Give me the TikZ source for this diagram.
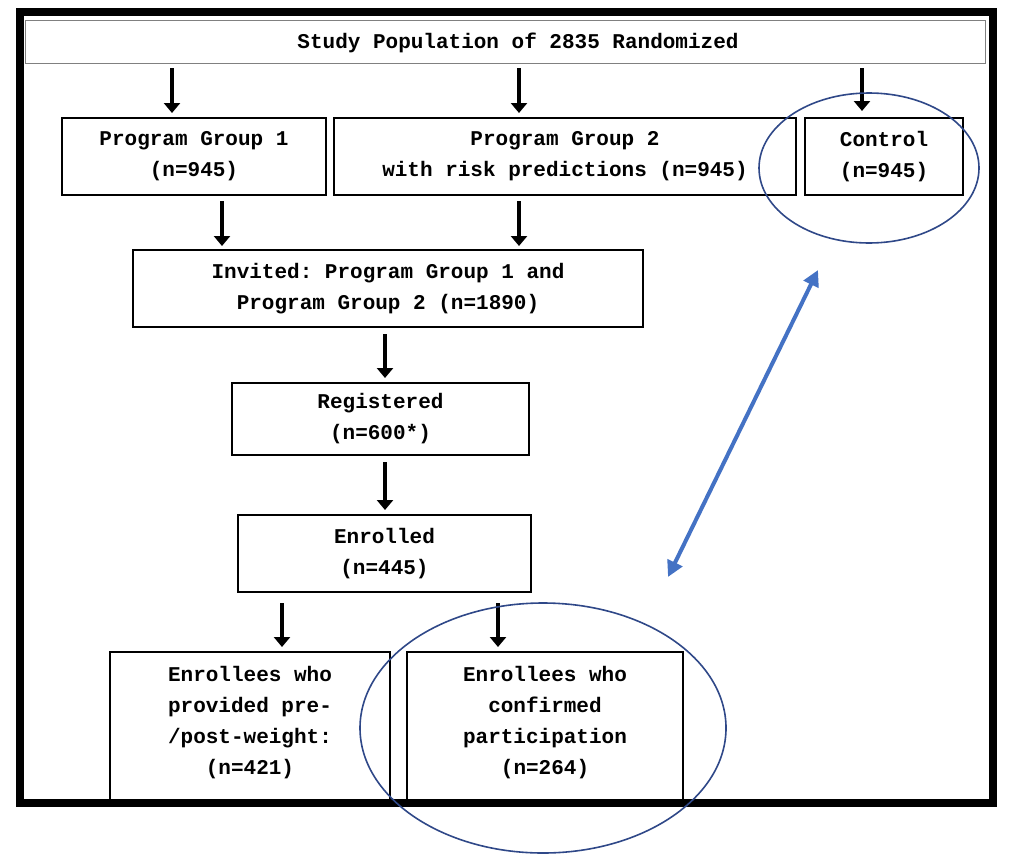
\documentclass[tikz,border=0pt]{standalone}
\usepackage{fontspec}
\setmonofont{Liberation Mono}
\usetikzlibrary{arrows.meta}

\begin{document}
\begin{tikzpicture}[x=1pt,y=-1pt]
  \tikzset{BoxStyle/.style = {
    shape         = rectangle,
    draw          = black,
    line width    = 1.5pt,
    align         = center,
    font          = \ttfamily\bfseries\fontsize{21}{31}\selectfont,
    inner sep     = 0pt,
    outer sep     = 0pt
    }
  }
  \tikzset{DownStyle/.style = {
    draw          = black,
    line width    = 3.5pt,
    -{Triangle[length=10pt,width=16pt]}
    }
  }
  \tikzset{RingStyle/.style = {
    draw          = {rgb,255:red,47;green,72;blue,136},
    line width    = 1.6pt
    }
  }
  \useasboundingbox (0,0) rectangle (1032,854);

	\draw[line width=1pt,gray] (25,20) rectangle (985,63);
	\node[font=\ttfamily\bfseries\fontsize{21}{31}\selectfont](Title) at (518,43) {Study Population of 2835 Randomized};

	\node[BoxStyle,minimum width=264pt,minimum height=77pt](G1) at (194,156.5) {Program Group 1\\(n=945)};
	\node[BoxStyle,minimum width=462pt,minimum height=77pt](G2) at (565,156.5) {Program Group 2\\with risk predictions (n=945)};
	\node[BoxStyle,minimum width=158pt,minimum height=77pt](Ctl) at (884,156.5) {Control\\(n=945)};
	\node[BoxStyle,minimum width=510pt,minimum height=77pt](Inv) at (388,288.5) {Invited: Program Group 1 and\\Program Group 2 (n=1890)};
	\node[BoxStyle,minimum width=297pt,minimum height=72pt](Reg) at (380.5,419) {Registered\\(n=600*)};
	\node[BoxStyle,minimum width=293pt,minimum height=77pt](Enr) at (384.5,553.5) {Enrolled\\(n=445)};
	\draw[line width=1.5pt] (110,652) rectangle (390,800);
	\draw[line width=1.5pt] (407,652) rectangle (683,800);
	\node[BoxStyle,draw=none,anchor=north](Wgt) at (250,666) {Enrollees who\\provided pre-\\/post-weight:\\(n=421)};
	\node[BoxStyle,draw=none,anchor=north](Cnf) at (545,666) {Enrollees who\\confirmed\\participation\\(n=264)};

	\draw[DownStyle] (172,68) -- (172,113);
	\draw[DownStyle] (519,68) -- (519,113);
	\draw[DownStyle] (862,68) -- (862,111);
	\draw[DownStyle] (222,201) -- (222,246);
	\draw[DownStyle] (519,201) -- (519,246);
	\draw[DownStyle] (385,334) -- (385,378);
	\draw[DownStyle] (385,462) -- (385,510);
	\draw[DownStyle] (282,603) -- (282,647);
	\draw[DownStyle] (498,603) -- (498,647);

	\draw[line width=8pt] (20,12) rectangle (993,803);

	\draw[RingStyle] (869,168) ellipse (110pt and 75pt);
	\draw[RingStyle] (543,728) ellipse (183pt and 125pt);
	\draw[draw={rgb,255:red,68;green,114;blue,196},line width=4pt,{Triangle[length=16pt,width=16pt]}-{Triangle[length=16pt,width=16pt]}] (668,577) -- (818,270);
  \end{tikzpicture}
\end{document}
